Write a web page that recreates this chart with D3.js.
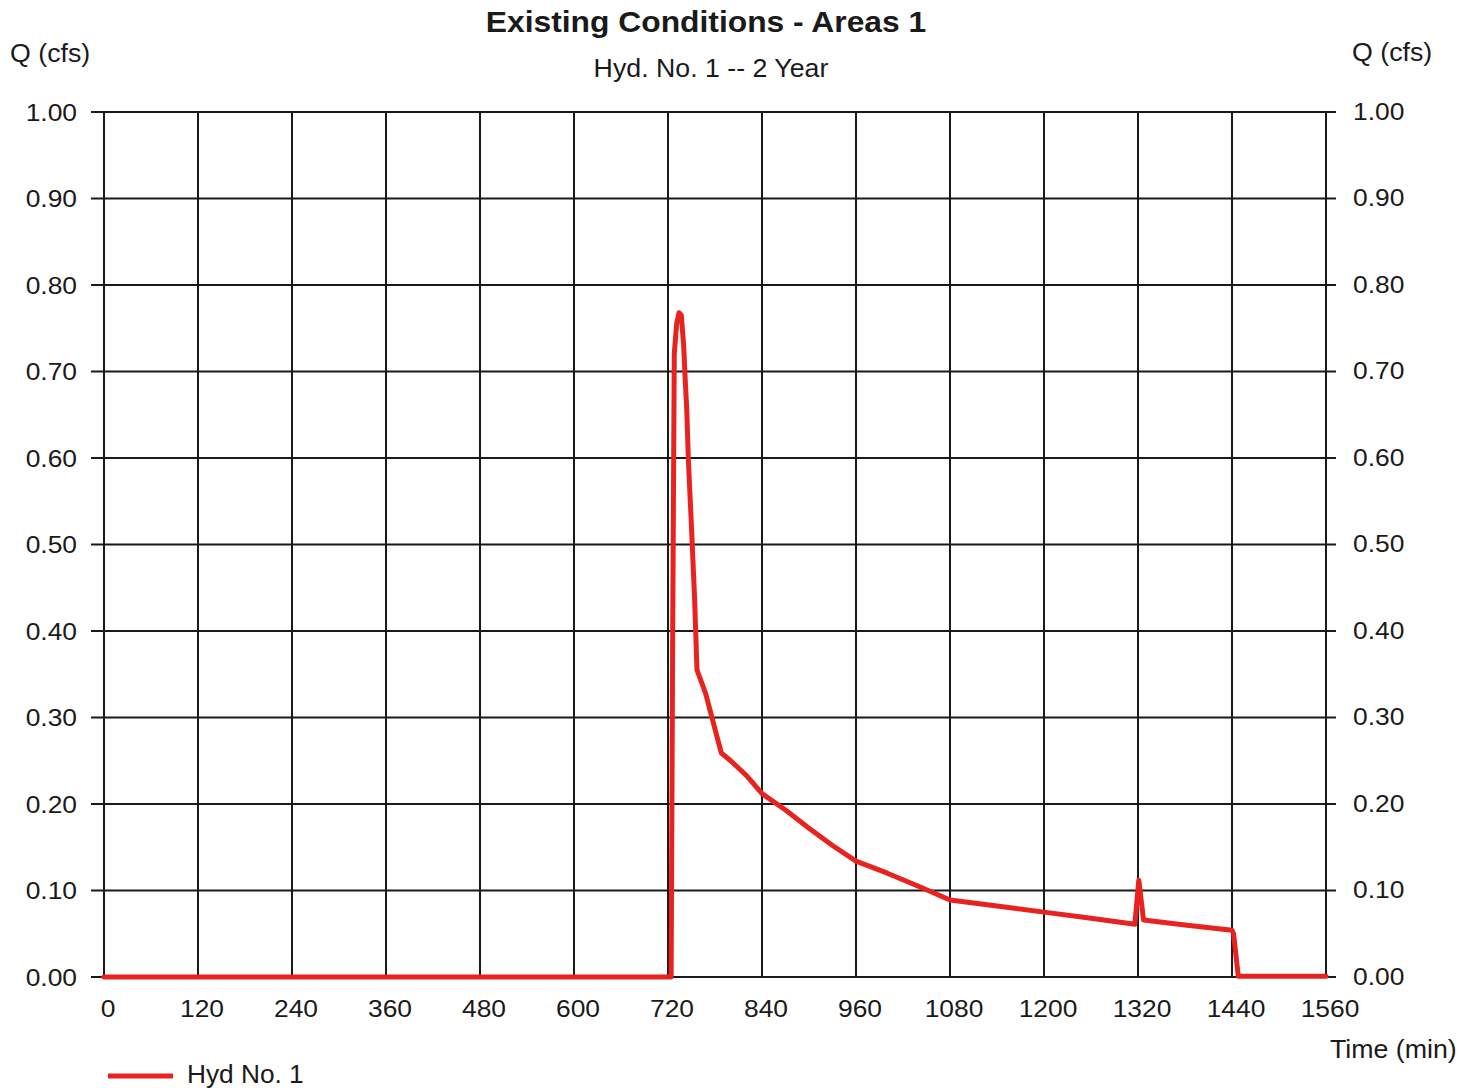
<!DOCTYPE html>
<html>
<head>
<meta charset="utf-8">
<script src="https://cdn.jsdelivr.net/npm/d3@7/dist/d3.min.js"></script>
<style>
  html, body { margin: 0; padding: 0; background: #fff; }
  svg { display: block; font-family: "Liberation Sans", Arial, sans-serif; }
</style>
</head>
<body>
<svg id="chart" width="1478" height="1088"></svg>
<script>
// Hydrograph ordinates: time (min) and flow Q (cfs)
const timeMin = [0, 720, 724, 726, 728, 731, 734, 737, 740, 742, 744, 746, 750, 754, 757,
  768, 788, 800, 820, 840, 870, 900, 930, 960, 1000, 1042, 1080, 1140, 1200, 1260,
  1316, 1321, 1327, 1380, 1440, 1442, 1448, 1560];
const flowCfs = [0, 0, 0, 0.40, 0.72, 0.755, 0.768, 0.765, 0.73, 0.69, 0.655, 0.598, 0.52, 0.436, 0.355,
  0.328, 0.259, 0.250, 0.233, 0.212, 0.193, 0.172, 0.152, 0.134, 0.120, 0.104, 0.089, 0.082, 0.075, 0.068,
  0.061, 0.112, 0.066, 0.060, 0.054, 0.050, 0.001, 0.001];

const xTicks = [0, 120, 240, 360, 480, 600, 720, 840, 960, 1080, 1200, 1320, 1440, 1560];
const yTicks = [0, 0.1, 0.2, 0.3, 0.4, 0.5, 0.6, 0.7, 0.8, 0.9, 1.0];

const titleText = "Existing Conditions - Areas 1";
const subtitleText = "Hyd. No. 1 -- 2 Year";
const yAxisLabel = "Q (cfs)";
const xAxisLabel = "Time (min)";
const seriesName = "Hyd No. 1";

const svg = d3.select("#chart");
const plot = { left: 104, right: 1326, top: 112, bottom: 977 };

const x = d3.scaleLinear().domain([0, 1560]).range([plot.left, plot.right]);
const y = d3.scaleLinear().domain([0, 1]).range([plot.bottom, plot.top]);

const gridColor = "#1a1a1a";
const textColor = "#1a1a1a";
const lineColor = "#e8231f";

// Text placed at (px, py) with a slightly wide glyph shape
function label(parent, px, py, str, size, opts = {}) {
  return parent.append("text")
    .attr("transform", `translate(${px},${py}) scale(${opts.sx || 1.07},1)`)
    .attr("text-anchor", opts.anchor || "start")
    .attr("font-size", size)
    .attr("font-weight", opts.weight || "normal")
    .attr("fill", textColor)
    .text(str);
}

// Grid: vertical lines
svg.append("g").selectAll("line").data(xTicks).join("line")
  .attr("x1", d => x(d)).attr("x2", d => x(d))
  .attr("y1", plot.top).attr("y2", plot.bottom)
  .attr("stroke", gridColor).attr("stroke-width", 2);

// Grid: horizontal lines, extended slightly outside as tick marks on both sides
svg.append("g").selectAll("line").data(yTicks).join("line")
  .attr("x1", plot.left - 13).attr("x2", plot.right + 10)
  .attr("y1", d => y(d)).attr("y2", d => y(d))
  .attr("stroke", gridColor).attr("stroke-width", 2);

const fmt = d3.format(".2f");
const labels = svg.append("g");

// Left and right value labels
yTicks.forEach(v => {
  label(labels, 77, y(v) + 8.5, fmt(v), 24, { anchor: "end", sx: 1.1 });
  label(labels, 1353, y(v) + 7.5, fmt(v), 24, { anchor: "start", sx: 1.1 });
});

// Time labels
xTicks.forEach(t => {
  label(labels, x(t) + 4, 1017, String(t), 24, { anchor: "middle", sx: 1.1 });
});

// Titles
label(svg, 706, 32, titleText, 30, { anchor: "middle", weight: "bold", sx: 1.06 });
label(svg, 711, 77, subtitleText, 25, { anchor: "middle", sx: 1.07 });

// Axis titles
label(svg, 10, 62, yAxisLabel, 25, { sx: 1.07 });
label(svg, 1352, 61, yAxisLabel, 25, { sx: 1.07 });
label(svg, 1330, 1058, xAxisLabel, 25, { sx: 1.07 });

// Hydrograph line
const pts = timeMin.map((t, i) => [t, flowCfs[i]]);
const line = d3.line().x(d => x(d[0])).y(d => y(d[1]));
svg.append("path").datum(pts)
  .attr("d", line)
  .attr("fill", "none")
  .attr("stroke", lineColor)
  .attr("stroke-width", 5)
  .attr("stroke-linejoin", "round")
  .attr("stroke-linecap", "round");

// Legend
const legend = svg.append("g");
legend.append("line").attr("x1", 108).attr("x2", 173).attr("y1", 1076).attr("y2", 1076)
  .attr("stroke", lineColor).attr("stroke-width", 5);
label(legend, 187, 1083, seriesName, 25, { sx: 1.05 });
</script>
</body>
</html>
